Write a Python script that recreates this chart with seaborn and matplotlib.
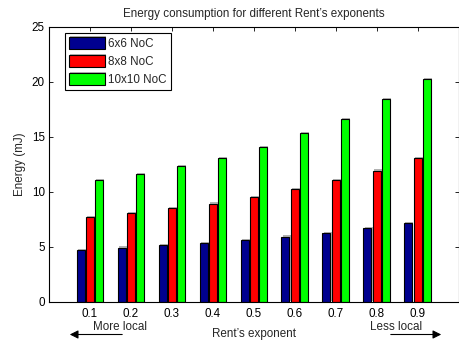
import numpy as np
import pandas as pd
import matplotlib
matplotlib.use("Agg")
import matplotlib.pyplot as plt
import matplotlib.patheffects as pe
import seaborn as sns

exponents = ["0.1", "0.2", "0.3", "0.4", "0.5", "0.6", "0.7", "0.8", "0.9"]
noc_6x6 = [4.75, 4.95, 5.15, 5.35, 5.65, 5.95, 6.3, 6.7, 7.2]
noc_8x8 = [7.75, 8.05, 8.55, 8.95, 9.55, 10.3, 11.1, 11.95, 13.05]
noc_10x10 = [11.1, 11.65, 12.35, 13.05, 14.1, 15.35, 16.65, 18.45, 20.3]
series_names = ["6x6 NoC", "8x8 NoC", "10x10 NoC"]
colors = ["#00008F", "#FF0000", "#00FF00"]

df = pd.DataFrame({
    "exp": exponents * 3,
    "energy": noc_6x6 + noc_8x8 + noc_10x10,
    "noc": sum([[n] * len(exponents) for n in series_names], []),
})

sns.set_style("ticks")
plt.rcParams["font.family"] = ["Liberation Sans", "DejaVu Sans"]
fs = 8.4

fig = plt.figure(figsize=(4.6, 3.4), dpi=100)
ax = fig.add_axes([0.1065, 0.1118, 0.8905, 0.8088])

sns.barplot(data=df, x="exp", y="energy", hue="noc", hue_order=series_names,
            palette=colors, width=0.68, gap=0.14, edgecolor="black",
            linewidth=0.8, saturation=1, ax=ax)
for p in ax.patches:
    p.set_path_effects([pe.SimplePatchShadow(offset=(0.8, 0.8), shadow_rgbFace="gray", alpha=0.6),
                        pe.Normal()])

ax.set_xlim(-1, 9)
ax.set_ylim(0, 25)
ax.set_yticks([0, 5, 10, 15, 20, 25])
ax.tick_params(direction="in", length=3, width=0.6, labelsize=fs, top=True, right=True,
               colors="black")
ax.tick_params(axis="x", pad=4)
ax.tick_params(axis="y", pad=3)
for s in ax.spines.values():
    s.set_visible(True)
    s.set_linewidth(0.8)
    s.set_color("black")

ax.set_title("Energy consumption for different Rent\u2019s exponents", fontsize=fs, pad=7)
ax.set_ylabel("Energy (mJ)", fontsize=fs, labelpad=4)
ax.set_xlabel("Rent\u2019s exponent", fontsize=fs, labelpad=6)

leg = ax.legend(loc="upper left", bbox_to_anchor=(0.038, 0.978), fontsize=fs,
                handlelength=3.1, handleheight=1.15, handletextpad=0.3,
                borderpad=0.35, labelspacing=0.45, fancybox=False, framealpha=1,
                borderaxespad=0)
leg.get_frame().set_edgecolor("black")
leg.get_frame().set_linewidth(0.8)

# locality annotations below the axis
fig.text(120 / 460, 1 - 327.5 / 340, "More local", fontsize=fs, ha="center", va="center")
fig.text(396 / 460, 1 - 327.5 / 340, "Less local", fontsize=fs, ha="center", va="center")
fig.add_artist(matplotlib.patches.FancyArrowPatch(
    (125 / 460, 1 - 334.5 / 340), (67 / 460, 1 - 334.5 / 340), transform=fig.transFigure,
    arrowstyle="-|>,head_length=5,head_width=2.5", color="black", lw=0.8))
fig.add_artist(matplotlib.patches.FancyArrowPatch(
    (388 / 460, 1 - 334.5 / 340), (444 / 460, 1 - 334.5 / 340), transform=fig.transFigure,
    arrowstyle="-|>,head_length=5,head_width=2.5", color="black", lw=0.8))

fig.savefig("out.png", dpi=100)
